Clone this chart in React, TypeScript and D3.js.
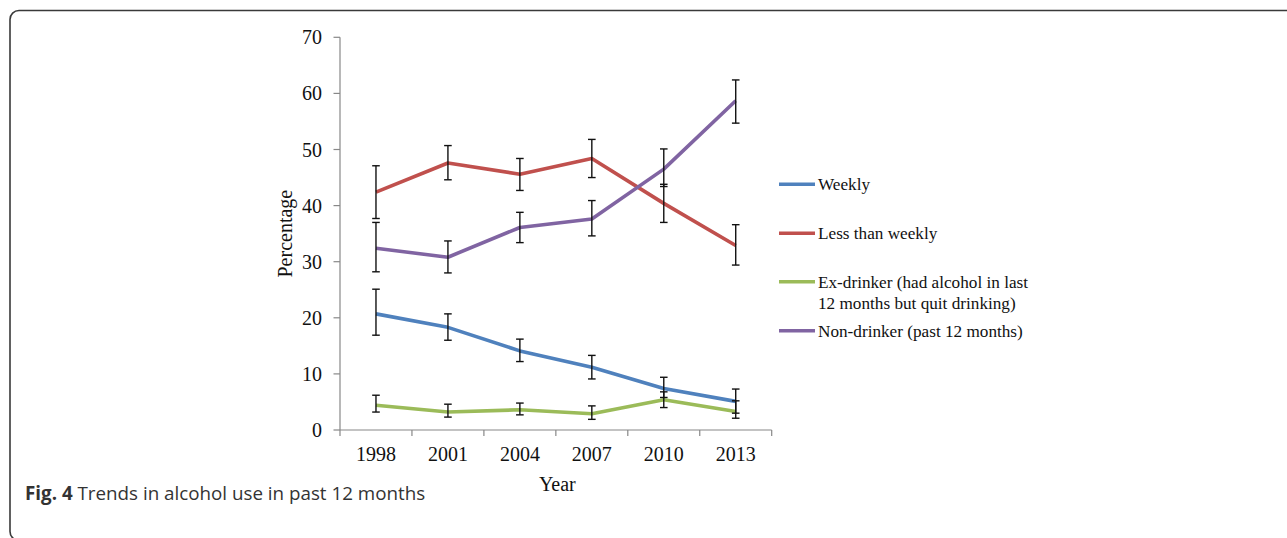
import React from 'react';
import * as d3 from 'd3';

// Survey years
const years = ['1998', '2001', '2004', '2007', '2010', '2013'];

// Percentages with 95% confidence bounds per drinking category
const weekly = [20.7, 18.3, 14.1, 11.2, 7.4, 5.1];
const weeklyLow = [16.9, 16.0, 12.2, 9.1, 5.8, 3.0];
const weeklyHigh = [25.1, 20.7, 16.2, 13.3, 9.4, 7.3];

const lessThanWeekly = [42.4, 47.6, 45.6, 48.4, 40.4, 32.9];
const lessThanWeeklyLow = [37.7, 44.6, 42.7, 45.0, 37.0, 29.4];
const lessThanWeeklyHigh = [47.1, 50.7, 48.4, 51.8, 43.8, 36.6];

const exDrinker = [4.4, 3.2, 3.6, 2.9, 5.4, 3.3];
const exDrinkerLow = [3.2, 2.3, 2.7, 1.9, 4.0, 2.1];
const exDrinkerHigh = [6.2, 4.6, 4.8, 4.3, 6.8, 5.2];

const nonDrinker = [32.4, 30.8, 36.1, 37.6, 46.5, 58.7];
const nonDrinkerLow = [28.2, 28.0, 33.4, 34.6, 43.4, 54.7];
const nonDrinkerHigh = [37.0, 33.7, 38.8, 40.9, 50.1, 62.4];

const yTicks = [0, 10, 20, 30, 40, 50, 60, 70];

const series = [
  { name: 'Weekly', lines: ['Weekly'], color: '#4F81BD', values: weekly, low: weeklyLow, high: weeklyHigh },
  { name: 'Less than weekly', lines: ['Less than weekly'], color: '#C0504D', values: lessThanWeekly, low: lessThanWeeklyLow, high: lessThanWeeklyHigh },
  { name: 'Ex-drinker', lines: ['Ex-drinker (had alcohol in last', '12 months but quit drinking)'], color: '#9BBB59', values: exDrinker, low: exDrinkerLow, high: exDrinkerHigh },
  { name: 'Non-drinker', lines: ['Non-drinker (past 12 months)'], color: '#8064A2', values: nonDrinker, low: nonDrinkerLow, high: nonDrinkerHigh },
];

const W = 1287;
const H = 538;
const left = 340;
const right = 771.7;
const top = 37.3;
const bottom = 430;
const serif = '"Liberation Serif", "Times New Roman", serif';

export default function App() {
  const x = d3.scaleBand<string>().domain(years).range([left, right]).paddingInner(0).paddingOuter(0);
  const y = d3.scaleLinear().domain([0, 70]).range([bottom, top]);
  const cx = (yr: string) => (x(yr) as number) + x.bandwidth() / 2;

  const line = d3
    .line<number>()
    .x((_, i) => cx(years[i]))
    .y((d) => y(d));

  const boundaries = [...years.map((yr) => x(yr) as number), right];
  const legendY = [184.3, 233.3, 281.7, 330.7];
  const capHalf = 3.8;

  return (
    <svg width={W} height={H} style={{ position: 'absolute', left: 0, top: 0, background: '#fff' }}>
      <rect x={10} y={10.5} width={1320} height={530} rx={9} ry={9} fill="#fff" stroke="#3a3a3a" strokeWidth={1.6} />

      {/* Axes */}
      <line x1={left} x2={left} y1={top} y2={bottom} stroke="#888" strokeWidth={1.2} />
      <line x1={left} x2={right} y1={bottom} y2={bottom} stroke="#888" strokeWidth={1.2} />
      {yTicks.map((t) => (
        <g key={t}>
          <line x1={left - 6.5} x2={left} y1={y(t)} y2={y(t)} stroke="#888" strokeWidth={1.2} />
          <text x={322} y={y(t)} dy="0.35em" textAnchor="end" fontFamily={serif} fontSize={20} fill="#111">
            {t}
          </text>
        </g>
      ))}
      {boundaries.map((bx, i) => (
        <line key={i} x1={bx} x2={bx} y1={bottom} y2={bottom + 6} stroke="#888" strokeWidth={1.2} />
      ))}
      {years.map((yr) => (
        <text key={yr} x={cx(yr)} y={461} textAnchor="middle" fontFamily={serif} fontSize={20} fill="#111">
          {yr}
        </text>
      ))}
      <text x={(left + right) / 2 + 1.5} y={491} textAnchor="middle" fontFamily={serif} fontSize={20} fill="#111">
        Year
      </text>
      <text
        transform={`translate(292,${(top + bottom) / 2}) rotate(-90)`}
        textAnchor="middle"
        fontFamily={serif}
        fontSize={20}
        fill="#111"
      >
        Percentage
      </text>

      {/* Series lines */}
      {series.map((s) => (
        <path key={s.name} d={line(s.values) as string} fill="none" stroke={s.color} strokeWidth={3.6} strokeLinejoin="round" />
      ))}

      {/* Error bars */}
      {series.map((s) =>
        years.map((yr, i) => {
          const px = cx(yr);
          return (
            <g key={s.name + yr} stroke="#111" strokeWidth={1.4}>
              <line x1={px} x2={px} y1={y(s.low[i])} y2={y(s.high[i])} />
              <line x1={px - capHalf} x2={px + capHalf} y1={y(s.low[i])} y2={y(s.low[i])} />
              <line x1={px - capHalf} x2={px + capHalf} y1={y(s.high[i])} y2={y(s.high[i])} />
            </g>
          );
        })
      )}

      {/* Legend */}
      {series.map((s, k) => (
        <g key={s.name}>
          <line x1={779} x2={815} y1={legendY[k]} y2={legendY[k]} stroke={s.color} strokeWidth={3.6} />
          {s.lines.map((ln, j) => (
            <text key={j} x={818} y={legendY[k] + j * 21} dy="0.35em" fontFamily={serif} fontSize={17.2} fill="#111">
              {ln}
            </text>
          ))}
        </g>
      ))}

      {/* Caption */}
      <text x={25} y={500} fontFamily='"Open Sans", sans-serif' fontSize={18.8} fill="#333">
        <tspan fontWeight="bold">Fig. 4</tspan>
        <tspan> Trends in alcohol use in past 12 months</tspan>
      </text>
    </svg>
  );
}
